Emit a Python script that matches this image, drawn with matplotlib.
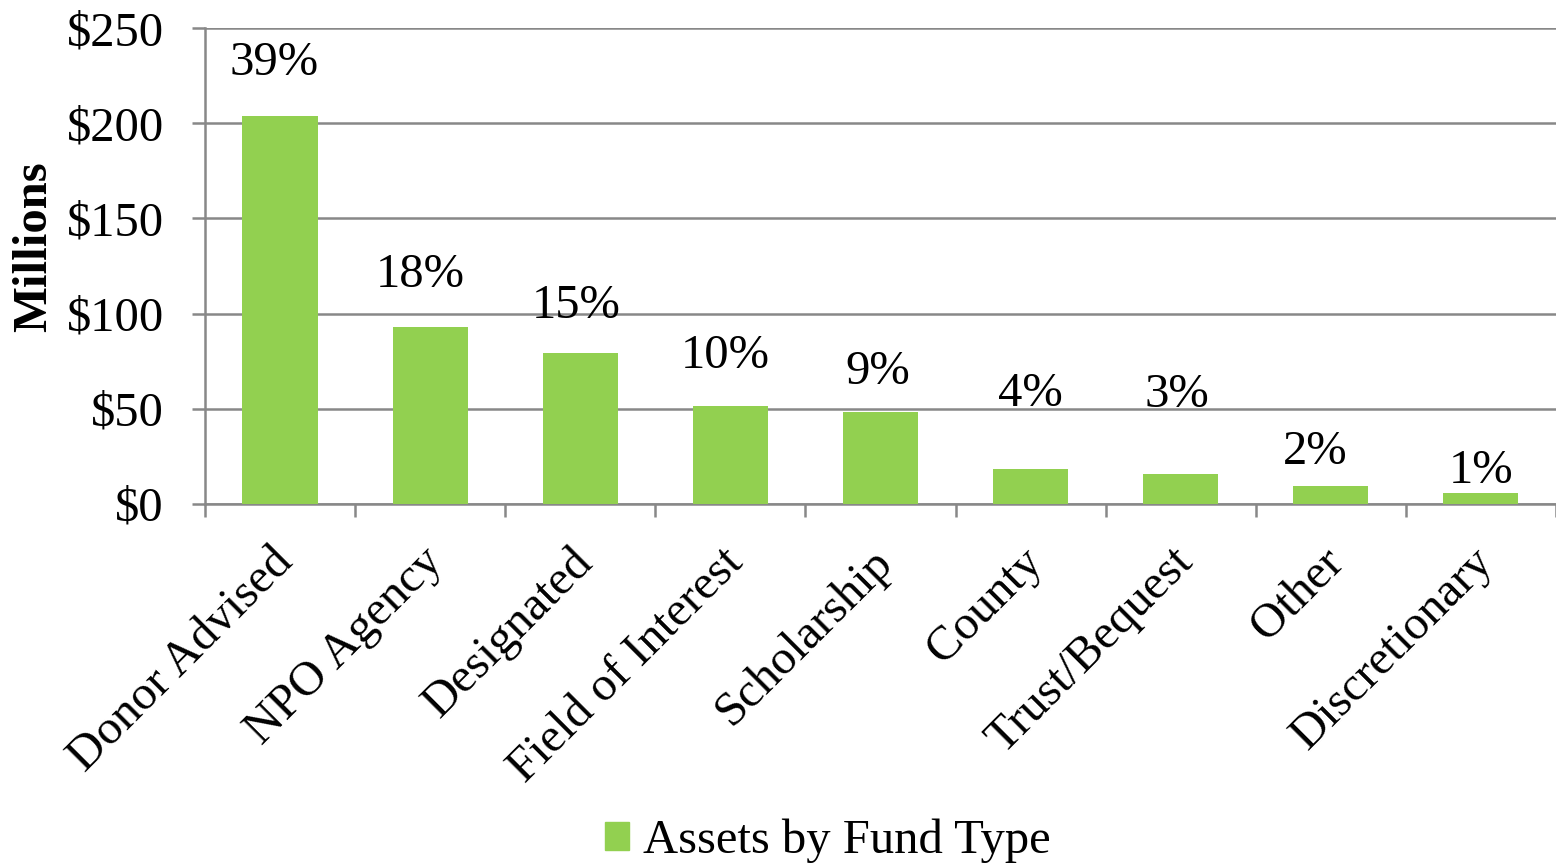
import matplotlib
matplotlib.use("Agg")
import matplotlib.pyplot as plt
from matplotlib.ticker import FuncFormatter, FixedLocator
from matplotlib.patches import Patch
from matplotlib.transforms import ScaledTranslation

# values (millions of dollars)
categories = ["Donor Advised", "NPO Agency", "Designated", "Field of Interest",
              "Scholarship", "County", "Trust/Bequest", "Other", "Discretionary"]
assets = [204, 93, 79.5, 51.5, 48.5, 18.5, 16, 9.5, 6]
shares = ["39%", "18%", "15%", "10%", "9%", "4%", "3%", "2%", "1%"]

# label placement tweaks (points) - labels were hand placed in the original
label_dx = [-4, -7, -3, -4, -2, 0, -3, -11, 0]
label_dy = [29, 29, 25, 27, 20, 45, 48, 16, 7]

plt.rcParams['font.family'] = ['Liberation Serif', 'DejaVu Serif']
fs = 35
green = "#92D050"
grey = "#888888"

fig = plt.figure(figsize=(15.56, 8.67), dpi=100)
ax = fig.add_axes([0.1317, 0.4187, 0.8683, 0.549])

x = list(range(len(categories)))
bars = ax.bar(x, assets, width=0.5, color=green, zorder=3)

for i, b in enumerate(bars):
    ax.annotate(shares[i], (b.get_x() + b.get_width() / 2, b.get_height()),
                xytext=(label_dx[i], label_dy[i]), textcoords="offset points",
                ha="center", va="baseline", fontsize=fs)

ax.set_xlim(-0.5, len(categories) - 0.5)
ax.set_ylim(0, 250)
ax.set_yticks(range(0, 251, 50))
ax.yaxis.set_major_formatter(FuncFormatter(lambda v, p: f"${int(v)}"))
ax.grid(axis="y", color=grey, linewidth=1.8, zorder=0)

ax.set_xticks(x)
ax.set_xticklabels(categories, rotation=45, ha="right", rotation_mode="anchor")
ax.xaxis.set_minor_locator(FixedLocator([i - 0.5 for i in range(len(categories) + 1)]))
ax.tick_params(axis="x", which="major", length=0, pad=20, labelsize=fs)
ax.tick_params(axis="x", which="minor", length=9.5, width=1.8, color=grey)
ax.tick_params(axis="y", length=9.5, width=1.8, color=grey, labelsize=fs, pad=20)

# nudge the rotated category labels (after tick_params, which resets transforms)
shift = ScaledTranslation(-0.10, -0.08, fig.dpi_scale_trans)
for lbl in ax.get_xticklabels():
    lbl.set_transform(lbl.get_transform() + shift)

for s in ["top", "right"]:
    ax.spines[s].set_visible(False)
for s in ["left", "bottom"]:
    ax.spines[s].set_color(grey)
    ax.spines[s].set_linewidth(1.8)

ax.set_ylabel("Millions", fontsize=fs, fontweight="bold")
ax.yaxis.set_label_coords(-0.11, 0.54)

fig.legend(handles=[Patch(color=green, label="Assets by Fund Type")],
           loc="lower center", bbox_to_anchor=(0.532, -0.046), frameon=False,
           fontsize=fs, handlelength=0.5, handleheight=0.5, handletextpad=0.3)

fig.savefig("out.png", dpi=100)
